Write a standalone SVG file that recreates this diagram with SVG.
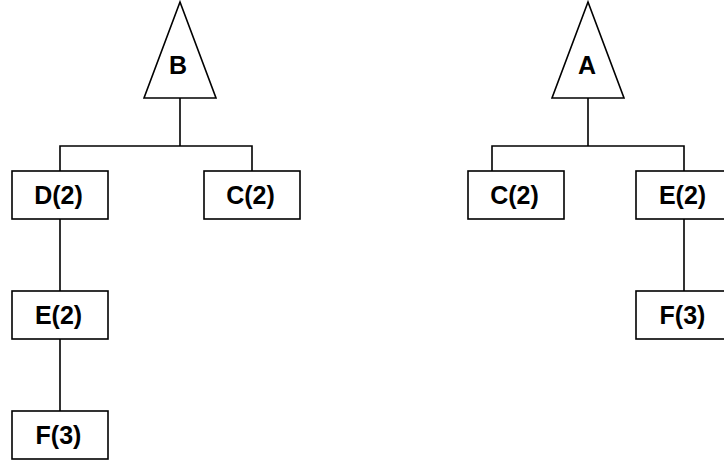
<svg xmlns="http://www.w3.org/2000/svg" width="724" height="462" viewBox="0 0 724 462">
<style>
.n{fill:#fff;stroke:#000;stroke-width:1.6}
.c{fill:none;stroke:#000;stroke-width:1.6}
text{font-family:"Liberation Sans",Arial,sans-serif;font-weight:bold;font-size:25px;text-anchor:middle;fill:#000}
</style>
<rect width="724" height="462" fill="#fff"/>
<g id="connectors">
<path class="c" d="M180 98V146M60 171V146H252V171M60 219V291M60 339V411"/>
<path class="c" d="M588 98V146M492 171V146H684V171M684 219V291"/>
</g>
<g id="B"><polygon class="n" points="180,2 144,98 216,98"/><text x="178" y="74">B</text></g>
<g id="D2"><rect class="n" x="12" y="171" width="96" height="48"/><text x="58.5" y="204">D(2)</text></g>
<g id="C2L"><rect class="n" x="204" y="171" width="96" height="48"/><text x="250.5" y="204">C(2)</text></g>
<g id="E2L"><rect class="n" x="12" y="291" width="96" height="48"/><text x="58.5" y="324">E(2)</text></g>
<g id="F3L"><rect class="n" x="12" y="411" width="96" height="48"/><text x="58.5" y="444">F(3)</text></g>
<g id="A"><polygon class="n" points="588,2 552,98 624,98"/><text x="587" y="74">A</text></g>
<g id="C2R"><rect class="n" x="468" y="171" width="96" height="48"/><text x="514.5" y="204">C(2)</text></g>
<g id="E2R"><rect class="n" x="636" y="171" width="96" height="48"/><text x="682.5" y="204">E(2)</text></g>
<g id="F3R"><rect class="n" x="636" y="291" width="96" height="48"/><text x="682.5" y="324">F(3)</text></g>
</svg>
